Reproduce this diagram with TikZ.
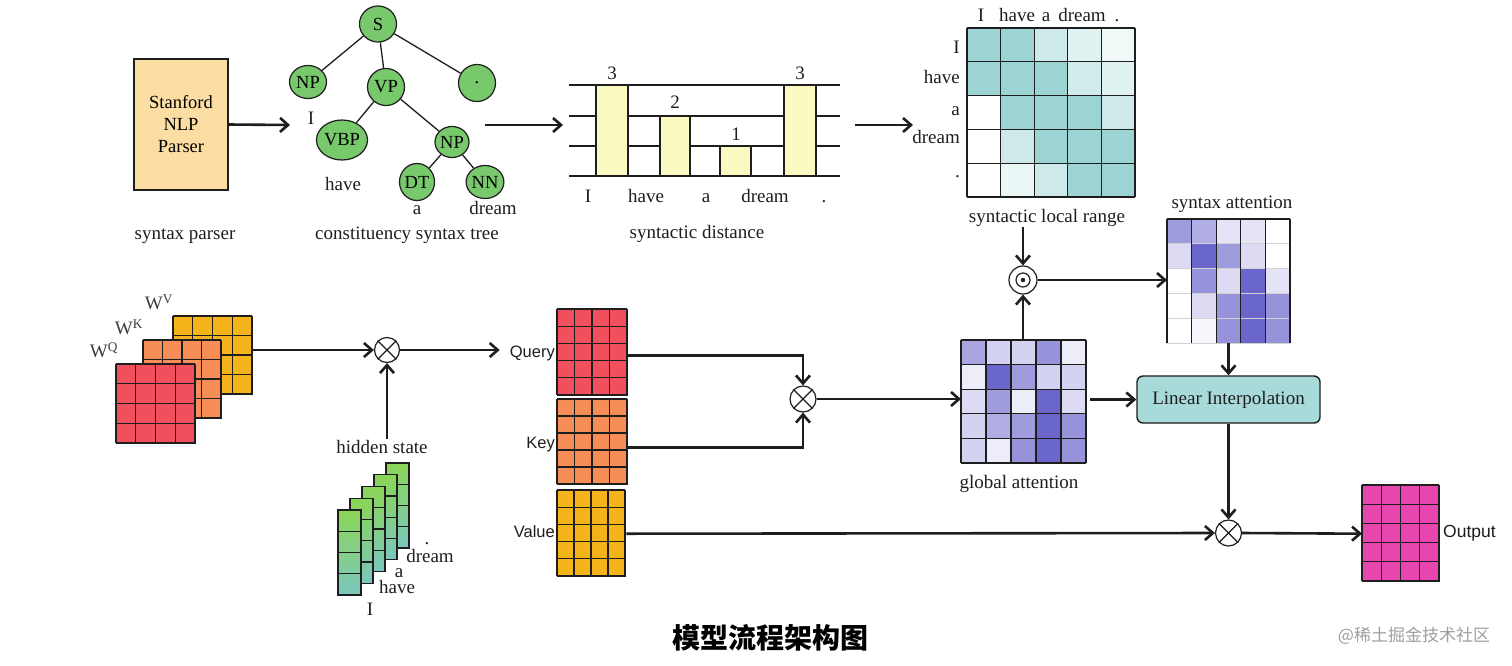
\documentclass[tikz,border=0pt]{standalone}
\usepackage{fontspec}
\setmainfont{Liberation Serif}
\setsansfont{Liberation Sans}
\newfontfamily\cjk{Noto Sans CJK SC}
\usetikzlibrary{arrows.meta,shapes.geometric,calc}

\definecolor{tealc}{RGB}{156,211,211}
\definecolor{purp}{RGB}{80,75,195}
\definecolor{qred}{RGB}{240,80,92}
\definecolor{korange}{RGB}{247,142,88}
\definecolor{vyellow}{RGB}{246,180,28}
\definecolor{outmag}{RGB}{232,70,175}
\definecolor{treegreen}{RGB}{120,200,108}
\definecolor{parserfill}{RGB}{252,222,164}
\definecolor{barfill}{RGB}{250,250,192}
\definecolor{lifill}{RGB}{168,218,218}
\definecolor{hsgreen}{RGB}{138,214,86}
\definecolor{hsteal}{RGB}{124,198,190}
\definecolor{linec}{RGB}{30,30,30}
\definecolor{wgray}{RGB}{60,60,60}

\newcommand\mygrid[7]{%
  \foreach \gi in {0,...,#5}{\draw[#7] ({#1+\gi*#3/#5},#2) -- ({#1+\gi*#3/#5},{#2+#4});}%
  \foreach \gj in {0,...,#6}{\draw[#7] (#1,{#2+\gj*#4/#6}) -- ({#1+#3},{#2+\gj*#4/#6});}%
}
\newcommand\heat[6]{%
  \foreach \vals [count=\r] in {#6}{%
    \foreach \v [count=\c] in \vals {%
      \fill[#5!\v!white] ({#1+(\c-1)*#3},{#2+(\r-1)*#4}) rectangle ++(#3,#4);}}%
}

\begin{document}
\begin{tikzpicture}[x=1pt,y=-1pt,
  txt/.style={font=\fontsize{19}{22}\selectfont, inner sep=1pt, text=linec},
  wtxt/.style={txt, anchor=base},
  sanstxt/.style={font=\sffamily\fontsize{16.5}{19}\selectfont, inner sep=1pt, text=linec},
  tnode/.style={ellipse, draw=linec, line width=1.2pt, fill=treegreen, inner sep=0pt, font=\fontsize{18.5}{20}\selectfont},
  tedge/.style={line width=1.3pt, draw=linec},
  conn/.style={line width=2.6pt, draw=linec, -{Straight Barb[length=8pt,width=14pt]}},
  opcirc/.style={circle, draw=linec, line width=1.2pt, fill=white, minimum size=26pt, inner sep=0pt},
  matbox/.style={draw=linec, line width=1.4pt, anchor=north west, inner sep=0pt},
  gridline/.style={line width=1.2pt, draw=linec},
  area/.style={anchor=north west, inner sep=0pt}
]
\useasboundingbox (0,0) rectangle (1512,665);
\fill[white] (0,0) rectangle (1512,665);

% ---------- syntax parser ----------
\node[draw=linec, line width=1.4pt, fill=parserfill, minimum width=94pt, minimum height=131pt,
      align=center, inner sep=0pt, font=\fontsize{18.5}{22}\selectfont] (parser) at (181,124.5) {Stanford\\NLP\\Parser};
\node[wtxt] (lparser) at (185,239) {syntax parser};
\coordinate (treein) at (290,125);
\draw[conn] (parser.east) -- (treein);

% ---------- constituency tree ----------
\node[tnode, minimum width=37pt, minimum height=36pt] (S) at (378,24) {S};
\node[tnode, minimum width=37pt, minimum height=33pt] (NP1) at (308,82) {NP};
\node[tnode, minimum width=37pt, minimum height=37pt] (VP) at (386,87) {VP};
\node[tnode, minimum width=37pt, minimum height=37pt] (DOT) at (477,83) {.};
\node[tnode, minimum width=51pt, minimum height=40pt] (VBP) at (342,140) {VBP};
\node[tnode, minimum width=34pt, minimum height=31pt] (NP2) at (452,142) {NP};
\node[tnode, minimum width=35pt, minimum height=37pt] (DT) at (417,182) {DT};
\node[tnode, minimum width=33pt, minimum height=33pt] (NN) at (485,182) {NN};
\draw[tedge] (S) -- (NP1);
\draw[tedge] (S) -- (VP);
\draw[tedge] (S) -- (DOT);
\draw[tedge] (VP) -- (VBP);
\draw[tedge] (VP) -- (NP2);
\draw[tedge] (NP2) -- (DT);
\draw[tedge] (NP2) -- (NN);
\node[wtxt] (wI) at (311,124) {I};
\node[wtxt] (whave) at (343,190) {have};
\node[wtxt] (wa) at (417,214) {a};
\node[wtxt] (wdream) at (493,214) {dream};
\node[wtxt] (ltree) at (407,239) {constituency syntax tree};
\coordinate (treeout) at (485,125);
\coordinate (distin) at (563,125);
\draw[conn] (treeout) -- (distin);

% ---------- syntactic distance ----------
\foreach \yy in {85,116,146,176} \draw[line width=1.4pt, linec] (569,\yy) -- (840,\yy);
\draw[line width=1.4pt, draw=linec, fill=barfill] (596,85) rectangle (628,176);
\draw[line width=1.4pt, draw=linec, fill=barfill] (660,116) rectangle (690,176);
\draw[line width=1.4pt, draw=linec, fill=barfill] (720,146) rectangle (751,176);
\draw[line width=1.4pt, draw=linec, fill=barfill] (784,85) rectangle (816,176);
\node[wtxt] (d1) at (612,79) {3};
\node[wtxt] (d2) at (675,108) {2};
\node[wtxt] (d3) at (736,140) {1};
\node[wtxt] (d4) at (800,79) {3};
\node[wtxt] (sI) at (588,202) {I};
\node[wtxt] (shave) at (646,202) {have};
\node[wtxt] (sa) at (706,202) {a};
\node[wtxt] (sdream) at (765,202) {dream};
\node[wtxt] (sdot) at (824,202) {.};
\node[wtxt] (ldist) at (697,238) {syntactic distance};
\coordinate (distout) at (855,125);
\coordinate (slrin) at (913,125);
\draw[conn] (distout) -- (slrin);

% ---------- syntactic local range ----------
\node[area, minimum width=168pt, minimum height=169pt] (slr) at (967,28) {};
\heat{967}{28}{33.6}{33.8}{tealc}{{100,100,50,30,15},{100,100,100,45,30},{0,100,100,100,50},{0,50,100,100,100},{0,20,50,100,100}}
\mygrid{967}{28}{168}{169}{5}{5}{gridline}
\node[wtxt] (cI) at (981,21) {I};
\node[wtxt] (chave) at (1017,21) {have};
\node[wtxt] (ca) at (1046,21) {a};
\node[wtxt] (cdream) at (1082,21) {dream};
\node[wtxt] (cdot) at (1117,21) {.};
\node[wtxt, anchor=base east] (rI) at (961,53) {I};
\node[wtxt, anchor=base east] (rhave) at (961,83) {have};
\node[wtxt, anchor=base east] (ra) at (961,115) {a};
\node[wtxt, anchor=base east] (rdream) at (961,143) {dream};
\node[wtxt, anchor=base east] (rdot) at (961,177) {.};
\node[wtxt] (lslr) at (1047,222) {syntactic local range};

% ---------- odot ----------
\node[opcirc, minimum size=28pt] (odot) at (1023,280) {};
\draw[line width=1.2pt, linec] (odot.center) circle (7);
\fill[linec] (odot.center) circle (2.2);
\draw[conn] (odot.north |- lslr.south) -- (odot.north);

% ---------- syntax attention ----------
\node[area, minimum width=123pt, minimum height=124pt] (syn) at (1167,219) {};
\heat{1167}{219}{24.6}{24.8}{purp}{{55,45,15,15,0},{20,85,55,20,0},{0,60,20,85,15},{0,20,60,85,60},{0,5,60,85,60}}
\mygrid{1167}{219}{123}{124}{5}{5}{line width=0.8pt, draw=gray!35}
\foreach \gi in {0,...,5} \draw[gridline] ({1167+\gi*24.6},219) -- ({1167+\gi*24.6},343);
\draw[gridline] (1167,219) -- (1290,219);
\node[wtxt] (lsyn) at (1232,208) {syntax attention};
\draw[conn] (odot.east) -- (odot.east -| syn.west);

% ---------- global attention ----------
\node[area, minimum width=125pt, minimum height=123pt] (glob) at (961,340) {};
\heat{961}{340}{25}{24.6}{purp}{{50,25,25,60,10},{10,85,55,25,25},{20,55,10,85,20},{25,45,55,85,60},{25,10,60,85,60}}
\mygrid{961}{340}{125}{123}{5}{5}{gridline}
\node[wtxt] (lglob) at (1019,488) {global attention};
\draw[conn] (odot.south |- glob.north) -- (odot.south);

% ---------- linear interpolation ----------
\node[draw=linec, line width=1.4pt, fill=lifill, rounded corners=6pt, minimum width=183pt, minimum height=47pt,
      inner sep=0pt, font=\fontsize{19}{21}\selectfont, text=linec] (li) at (1228.5,399.5) {Linear Interpolation};
\draw[conn] (syn.south -| li.north) -- (li.north);
\draw[conn] (li.west -| glob.east) ++(4,0) -- (li.west);

% ---------- W matrices ----------
\node[matbox, fill=vyellow, minimum width=79pt, minimum height=78pt] (wv) at (173,316) {};
\mygrid{173}{316}{79}{78}{4}{4}{gridline}
\node[matbox, fill=korange, minimum width=78pt, minimum height=78pt] (wk) at (143,340) {};
\mygrid{143}{340}{78}{78}{4}{4}{gridline}
\node[matbox, fill=qred, minimum width=79pt, minimum height=79pt] (wq) at (116,364) {};
\mygrid{116}{364}{79}{79}{4}{4}{gridline}
\node[txt, text=wgray] (lwv) at (159,302) {W\textsuperscript{V}};
\node[txt, text=wgray] (lwk) at (129,327) {W\textsuperscript{K}};
\node[txt, text=wgray] (lwq) at (104,350) {W\textsuperscript{Q}};

% ---------- first multiplication ----------
\node[opcirc, minimum size=25pt] (mul1) at (387,350) {};
\draw[line width=1.2pt, linec] (mul1.north west) -- (mul1.south east) (mul1.north east) -- (mul1.south west);
\draw[conn] (wv.east |- mul1.west) -- (mul1.west);

% ---------- hidden state ----------
\foreach \k in {0,...,4}{%
  \pgfmathsetmacro\cx{386-12*\k}%
  \pgfmathsetmacro\cy{463+11.75*\k}%
  \shadedraw[top color=hsgreen, bottom color=hsteal, draw=linec, line width=1.3pt] (\cx,\cy) rectangle ++(23,85);
  \foreach \m in {1,2,3}{\draw[line width=1.2pt, linec] (\cx,{\cy+21.25*\m}) -- ++(23,0);}
}
\node[wtxt] (lhs) at (382,453) {hidden state};
\node[wtxt] (hI) at (370,615) {I};
\node[wtxt] (hhave) at (397,593) {have};
\node[wtxt] (ha) at (399,577) {a};
\node[wtxt] (hdream) at (430,562) {dream};
\node[wtxt] (hdot) at (427,544) {.};
\draw[conn] (mul1.south |- lhs.north) -- (mul1.south);

% ---------- Query / Key / Value ----------
\node[matbox, fill=qred, minimum width=70pt, minimum height=86pt] (query) at (557,309) {};
\mygrid{557}{309}{70}{86}{4}{5}{gridline}
\node[matbox, fill=korange, minimum width=70pt, minimum height=85pt] (key) at (557,399) {};
\mygrid{557}{399}{70}{85}{4}{5}{gridline}
\node[matbox, fill=vyellow, minimum width=68pt, minimum height=86pt] (value) at (557,490) {};
\mygrid{557}{490}{68}{86}{4}{5}{gridline}
\node[sanstxt, anchor=east] (lq) at (556,353) {Query};
\node[sanstxt, anchor=east] (lk) at (556,445) {Key};
\node[sanstxt, anchor=east] (lv) at (556,532) {Value};
\draw[conn] (mul1.east) -- ([xshift=-9pt]mul1.east -| lq.west);

% ---------- second multiplication ----------
\node[opcirc] (mul2) at (803,399) {};
\draw[line width=1.2pt, linec] (mul2.north west) -- (mul2.south east) (mul2.north east) -- (mul2.south west);
\draw[conn] ([yshift=-3pt]query.east) -| (mul2.north);
\draw[conn] ([yshift=-5pt]key.east) -| (mul2.south);
\draw[conn] (mul2.east) -- (glob.west |- mul2.east);

% ---------- third multiplication and output ----------
\node[opcirc] (mul3) at (1228.5,533) {};
\draw[line width=1.2pt, linec] (mul3.north west) -- (mul3.south east) (mul3.north east) -- (mul3.south west);
\draw[conn] (li.south) -- (mul3.north);
\draw[conn] (value.east) -- (mul3.west);
\node[matbox, fill=outmag, minimum width=77pt, minimum height=96pt] (out) at (1362,485) {};
\mygrid{1362}{485}{77}{96}{4}{5}{gridline}
\node[sanstxt, anchor=west, font=\sffamily\fontsize{17.5}{20}\selectfont] (lout) at (1442,533) {Output};
\draw[conn] (mul3.east) -- (out.west);

% ---------- title and mark ----------
\node[font=\cjk\bfseries\fontsize{28}{30}\selectfont, text=black] (title) at (770,638) {模型流程架构图};
\node[font=\cjk\fontsize{17}{19}\selectfont, text=gray!75] (mark) at (1414,636) {@稀土掘金技术社区};
\end{tikzpicture}
\end{document}
